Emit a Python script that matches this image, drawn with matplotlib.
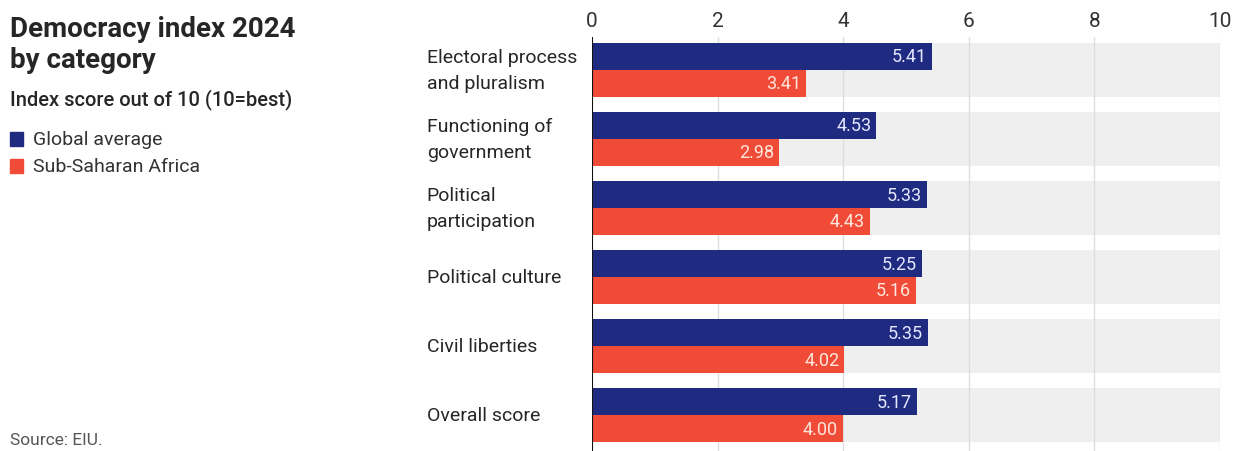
import matplotlib
matplotlib.use("Agg")
import matplotlib.pyplot as plt
import numpy as np

plt.rcParams['font.family'] = ['Roboto', 'DejaVu Sans']

categories = [
    "Electoral process\nand pluralism",
    "Functioning of\ngovernment",
    "Political\nparticipation",
    "Political culture",
    "Civil liberties",
    "Overall score",
]
global_avg = [5.41, 4.53, 5.33, 5.25, 5.35, 5.17]
ssa = [3.41, 2.98, 4.43, 5.16, 4.02, 4.00]
x_ticks = [0, 2, 4, 6, 8, 10]

BLUE = "#1f2b80"
RED = "#f04b37"
BAND = "#efefef"
GRID = "#dedede"
TEXT = "#262626"

W, H = 1236, 452
fig = plt.figure(figsize=(W / 100, H / 100), dpi=100)

left_px, right_px, top_px = 592, 1220, 38
ax = fig.add_axes([left_px / W, 0, (right_px - left_px) / W, 1 - top_px / H])

n = len(categories)
y = np.arange(n)
band_h = 0.78
bar_h = band_h / 2

# background bands spanning the full scale
ax.barh(y, [10] * n, height=band_h, left=0, color=BAND, zorder=0)
for t in x_ticks[1:]:
    ax.axvline(t, color=GRID, lw=1.0, zorder=0.5)

b1 = ax.barh(y - bar_h / 2, global_avg, height=bar_h, color=BLUE, zorder=2)
b2 = ax.barh(y + bar_h / 2, ssa, height=bar_h, color=RED, zorder=2)

for bars, vals, col in ((b1, global_avg, "#e6e8ff"), (b2, ssa, "#ffe6dc")):
    for rect, v in zip(bars, vals):
        ax.text(v - 0.08, rect.get_y() + rect.get_height() / 2, f"{v:.2f}",
                ha="right", va="center", color=col, fontsize=13, zorder=3)

ax.axvline(0, color="#111111", lw=1.5, zorder=4)

ax.set_xlim(0, 10)
ax.set_ylim(5 + 36 / 69.2, -33 / 69.2)
ax.xaxis.tick_top()
ax.set_xticks(x_ticks)
ax.set_xticklabels([str(t) for t in x_ticks], fontsize=15, color="#333333")
ax.tick_params(axis="x", length=0, pad=5)
ax.set_yticks([])
for s in ax.spines.values():
    s.set_visible(False)

# category labels, left aligned
for yi, lab in zip(y, categories):
    ax.text(-2.63, yi, lab, ha="left", va="center", fontsize=14,
            color=TEXT, linespacing=1.6, transform=ax.transData)

# title block
fig.text(10 / W, 1 - 45 / H, "Democracy index 2024\nby category", ha="left",
         va="center", fontsize=20, fontweight="bold", color=TEXT,
         linespacing=1.2)
fig.text(10 / W, 1 - 100 / H, "Index score out of 10 (10=best)", ha="left",
         va="center", fontsize=14.5, fontweight="medium", color=TEXT)

# legend
for i, (lab, col) in enumerate((("Global average", BLUE), ("Sub-Saharan Africa", RED))):
    yc = 140 + i * 27
    fig.patches.append(plt.Rectangle((10 / W, 1 - (yc + 7) / H), 13 / W, 14 / H,
                                     transform=fig.transFigure, color=col))
    fig.text(33 / W, 1 - yc / H, lab, ha="left", va="center", fontsize=14,
             color="#333333")

fig.text(10 / W, 1 - 441 / H, "Source: EIU.", ha="left", va="center",
         fontsize=12.5, color="#555555")

fig.savefig("out.png", dpi=100)
